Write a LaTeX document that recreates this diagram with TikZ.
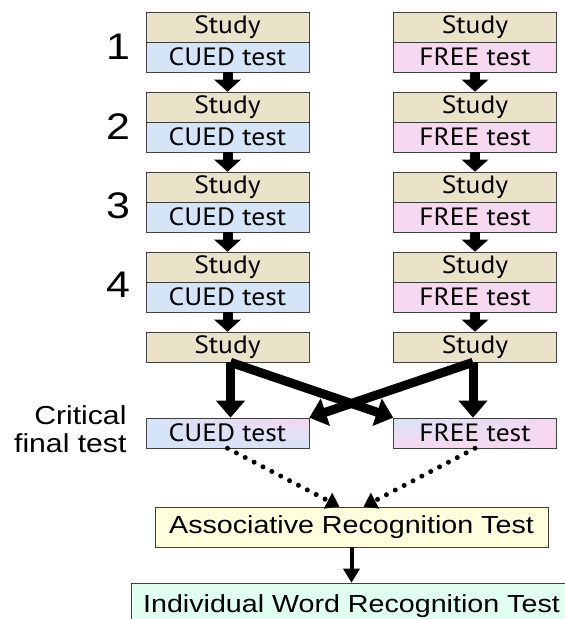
\documentclass[tikz,border=0pt]{standalone}
\usepackage{fontspec}
\setmainfont{Liberation Sans}[FakeStretch=1.16]
\newfontfamily\stagefont{PT Sans}[FakeStretch=1.1]
\usetikzlibrary{arrows.meta,shadings}

\definecolor{studycol}{RGB}{234,226,201}
\definecolor{cuedcol}{RGB}{214,228,247}
\definecolor{freecol}{RGB}{246,216,240}
\definecolor{assoccol}{RGB}{255,255,221}
\definecolor{indivcol}{RGB}{224,255,240}

\tikzset{
	stage/.style={draw=black!75, line width=0.6pt, minimum width=163pt, minimum height=30pt, inner sep=0pt, font=\stagefont\fontsize{25}{25}\selectfont},
	studybox/.style={stage, fill=studycol},
	cuedbox/.style={stage, fill=cuedcol},
	freebox/.style={stage, fill=freecol},
	roundno/.style={font=\fontsize{37}{37}\selectfont},
	bigarrow/.style={line width=10pt, -{Triangle[width=26pt,length=12pt]}},
	crossarrow/.style={line width=9pt, -{Triangle[width=28pt,length=17pt]}},
	dotarrow/.style={line width=5pt, line cap=round, dash pattern=on 0pt off 10pt, -{Triangle[width=17pt,length=13pt]}},
	recog/.style={draw=black!75, line width=0.6pt, inner sep=0pt, font=\fontsize{24.7}{24.7}\selectfont}
}

\begin{document}
\begin{tikzpicture}[x=1pt, y=-1pt]
			%%%%% START %%%%%
			\clip (0,0) rectangle (565,619);
			
			% round numbers
			\node[roundno] (n1) at (118,47) {1};
			\node[roundno] (n2) at (118,127) {2};
			\node[roundno] (n3) at (118,206) {3};
			\node[roundno] (n4) at (118,285) {4};
			
			% cued column
			\node[studybox] (ls1) at (227.5,27.5) {Study};
			\node[cuedbox] (lt1) at (227.5,57) {CUED test};
			\node[studybox] (ls2) at (227.5,107) {Study};
			\node[cuedbox] (lt2) at (227.5,137) {CUED test};
			\node[studybox] (ls3) at (227.5,187) {Study};
			\node[cuedbox] (lt3) at (227.5,217) {CUED test};
			\node[studybox] (ls4) at (227.5,267) {Study};
			\node[cuedbox] (lt4) at (227.5,297) {CUED test};
			\node[studybox] (ls5) at (227.5,347) {Study};
			
			% free column
			\node[studybox] (rs1) at (475,27.5) {Study};
			\node[freebox] (rt1) at (475,57) {FREE test};
			\node[studybox] (rs2) at (475,107) {Study};
			\node[freebox] (rt2) at (475,137) {FREE test};
			\node[studybox] (rs3) at (475,187) {Study};
			\node[freebox] (rt3) at (475,217) {FREE test};
			\node[studybox] (rs4) at (475,267) {Study};
			\node[freebox] (rt4) at (475,297) {FREE test};
			\node[studybox] (rs5) at (475,347) {Study};
			
			\draw[bigarrow] (lt1) -- (ls2);
			\draw[bigarrow] (lt2) -- (ls3);
			\draw[bigarrow] (lt3) -- (ls4);
			\draw[bigarrow] (lt4) -- (ls5);
			\draw[bigarrow] (rt1) -- (rs2);
			\draw[bigarrow] (rt2) -- (rs3);
			\draw[bigarrow] (rt3) -- (rs4);
			\draw[bigarrow] (rt4) -- (rs5);
			
			% critical final test
			\node[align=right, anchor=east, font=\fontsize{26}{28}\selectfont] (crit) at (130,429) {Critical\\final test};
			\node[stage, upper left=cuedcol, upper right=freecol, lower left=cuedcol, lower right=cuedcol] (lfin) at (227.5,433) {CUED test};
			\node[stage, upper left=cuedcol, upper right=freecol, lower left=freecol, lower right=freecol] (rfin) at (475,433) {FREE test};
			
			\draw[crossarrow] ([xshift=3pt]ls5.south) -- ([xshift=3pt]lfin.north);
			\draw[crossarrow] ([xshift=-2pt]rs5.south) -- ([xshift=-2pt]rfin.north);
			\draw[crossarrow] ([xshift=3pt]ls5.south) -- (rfin.north west);
			\draw[crossarrow] ([xshift=-2pt]rs5.south) -- (lfin.north east);
			
			% recognition tests
			\node[recog, fill=assoccol, minimum width=393pt, minimum height=40pt] (assoc) at (351.5,527) {Associative Recognition Test};
			\node[recog, fill=indivcol, minimum width=440pt, minimum height=46pt] (indiv) at (351.5,606) {Individual Word Recognition Test};
			
			\draw[dotarrow] (lfin.south) -- ([xshift=-12pt]assoc.north);
			\draw[dotarrow] (rfin.south) -- ([xshift=12pt]assoc.north);
			\draw[line width=4pt, -{Triangle[width=16pt,length=14pt]}] (assoc) -- (indiv);
			%%%%% END %%%%%
\end{tikzpicture}
\end{document}
